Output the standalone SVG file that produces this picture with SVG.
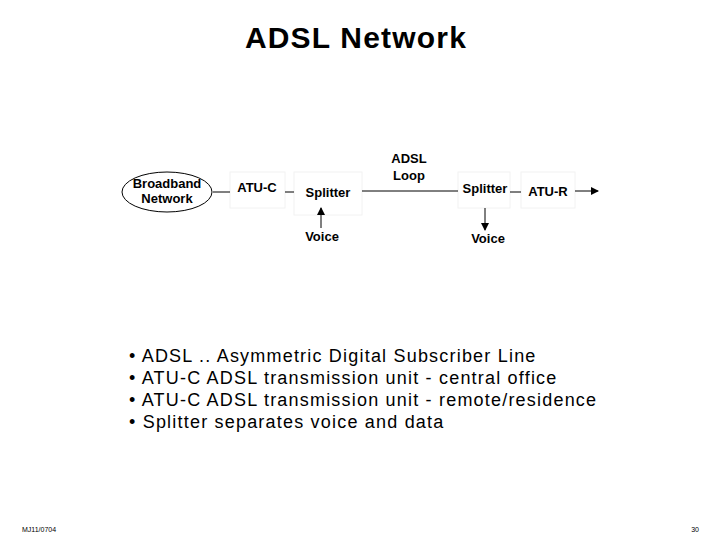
<svg xmlns="http://www.w3.org/2000/svg" width="720" height="540" viewBox="0 0 720 540">
<style>
text{font-family:"Liberation Sans",Arial,sans-serif;fill:#000}
.n{font-size:13px;font-weight:bold}
.b{fill:#fff;stroke:#f2f2f2;stroke-width:1}
.c{stroke:#000;stroke-width:1;fill:none}
.bl{font-size:18px;letter-spacing:1.2px}
</style>
<defs><marker id="a" markerWidth="8" markerHeight="8" refX="7" refY="4" orient="auto" markerUnits="userSpaceOnUse"><path d="M0,0L8,4L0,8z" fill="#000"/></marker></defs>
<rect width="720" height="540" fill="#fff"/>
<text x="356" y="48" text-anchor="middle" style="font-size:30px;font-weight:bold;letter-spacing:1.2px">ADSL Network</text>
<g id="broadband"><ellipse cx="167" cy="192" rx="45" ry="20" fill="#fff" stroke="#000"/><text class="n" x="167" y="188" text-anchor="middle">Broadband</text><text class="n" x="167" y="203" text-anchor="middle">Network</text></g>
<g id="atuc"><rect class="b" x="230" y="172" width="55" height="36"/><text class="n" x="257" y="192" text-anchor="middle">ATU-C</text></g>
<g id="splitter1"><rect class="b" x="294" y="172" width="68" height="43"/><text class="n" x="328" y="197" text-anchor="middle">Splitter</text></g>
<g id="loop"><text class="n" x="409" y="163" text-anchor="middle">ADSL</text><text class="n" x="409" y="180" text-anchor="middle">Loop</text></g>
<g id="splitter2"><rect class="b" x="458" y="172" width="52" height="36"/><text class="n" x="485" y="193" text-anchor="middle">Splitter</text></g>
<g id="atur"><rect class="b" x="521" y="172" width="54" height="36"/><text class="n" x="548" y="196" text-anchor="middle">ATU-R</text></g>
<g id="voice1"><text class="n" x="322" y="241" text-anchor="middle">Voice</text></g>
<g id="voice2"><text class="n" x="488" y="243" text-anchor="middle">Voice</text></g>
<g id="connectors">
<line class="c" x1="213" y1="192" x2="230" y2="192"/>
<line class="c" x1="285" y1="192" x2="294" y2="192"/>
<line class="c" x1="362" y1="191" x2="458" y2="191"/>
<line class="c" x1="510" y1="192" x2="521" y2="192"/>
<line class="c" x1="575" y1="191" x2="598" y2="191" marker-end="url(#a)"/>
<line class="c" x1="321" y1="228" x2="321" y2="208" marker-end="url(#a)"/>
<line class="c" x1="485" y1="208" x2="485" y2="230" marker-end="url(#a)"/>
</g>
<text class="bl" x="129" y="362">• ADSL .. Asymmetric Digital Subscriber Line</text>
<text class="bl" x="129" y="384">• ATU-C ADSL transmission unit - central office</text>
<text class="bl" x="129" y="406">• ATU-C ADSL transmission unit - remote/residence</text>
<text class="bl" x="129" y="428">• Splitter separates voice and data</text>
<text x="22" y="532" style="font-size:7px">MJ11/0704</text>
<text x="699" y="532" text-anchor="end" style="font-size:7px">30</text>
</svg>
